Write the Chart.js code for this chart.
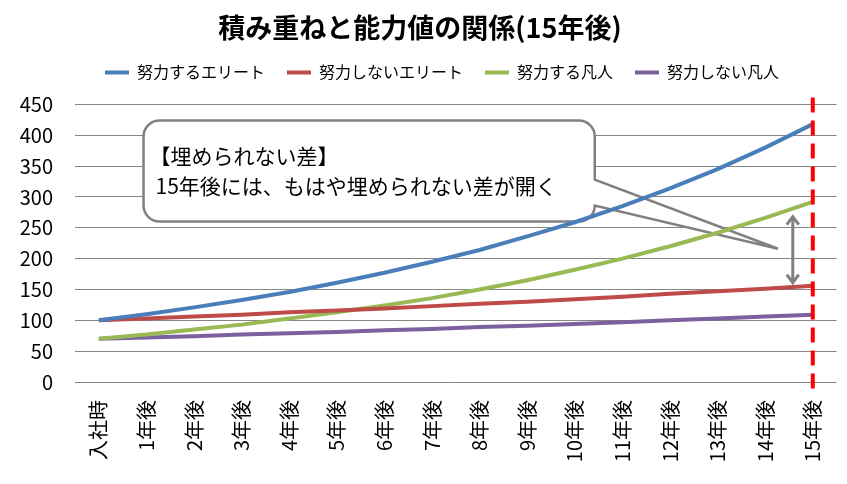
<!DOCTYPE html>
<html>
<head>
<meta charset="utf-8">
<script src="https://cdn.jsdelivr.net/npm/chart.js@4"></script>
<style>
  html, body { margin: 0; padding: 0; background: #fff; }
  #wrap { width: 847px; height: 484px; }
</style>
</head>
<body>
<div id="wrap"><canvas id="chart" width="847" height="484"></canvas></div>
<script>
// データ
const labels = ['入社時', '1年後', '2年後', '3年後', '4年後', '5年後', '6年後', '7年後',
  '8年後', '9年後', '10年後', '11年後', '12年後', '13年後', '14年後', '15年後'];
const eliteWork = [100, 110, 121, 133, 146, 161, 177, 195, 214, 236, 259, 285, 314, 345, 380, 418];
const eliteLazy = [100, 103, 106, 109, 113, 116, 119, 123, 127, 130, 134, 138, 143, 147, 151, 156];
const normalWork = [70, 77, 85, 93, 103, 113, 124, 136, 150, 165, 182, 200, 220, 242, 266, 292];
const normalLazy = [70, 72, 74, 77, 79, 81, 84, 86, 89, 91, 94, 97, 100, 103, 106, 109];
const yTicks = [0, 50, 100, 150, 200, 250, 300, 350, 400, 450];

const FONT = '"Noto Sans CJK JP", "Noto Sans", sans-serif';

// 凡例の下に余白を足して、少し右へずらす
const legendTweak = {
  id: 'legendTweak',
  beforeLayout(chart) {
    const lg = chart.legend;
    if (!lg || lg._tweaked) return;
    lg._tweaked = true;
    const fit = lg.fit;
    lg.fit = function() {
      fit.call(this);
      this.height += 14;
    };
    const draw = lg.draw;
    lg.draw = function() {
      const ctx = this.ctx;
      ctx.save();
      ctx.translate(22, 0);
      draw.call(this);
      ctx.restore();
    };
  }
};

// 吹き出し・矢印・破線
const annotate = {
  id: 'annotate',
  beforeDatasetsDraw(chart) {
    const { ctx, scales: { x, y } } = chart;
    const l = x.getPixelForValue(0.94), r = x.getPixelForValue(10.42);
    const t = y.getPixelForValue(424), b = y.getPixelForValue(260);
    const rad = 16;
    const tipX = x.getPixelForValue(14.27), tipY = y.getPixelForValue(216);
    const t1 = y.getPixelForValue(328), t2 = y.getPixelForValue(286);
    ctx.save();
    ctx.beginPath();
    ctx.moveTo(l + rad, t);
    ctx.lineTo(r - rad, t);
    ctx.arcTo(r, t, r, t + rad, rad);
    ctx.lineTo(r, t1);
    ctx.lineTo(tipX, tipY);
    ctx.lineTo(r, t2);
    ctx.arcTo(r, b, r - rad, b, rad);
    ctx.lineTo(l + rad, b);
    ctx.arcTo(l, b, l, b - rad, rad);
    ctx.lineTo(l, t + rad);
    ctx.arcTo(l, t, l + rad, t, rad);
    ctx.closePath();
    ctx.fillStyle = '#ffffff';
    ctx.fill();
    ctx.strokeStyle = '#808080';
    ctx.lineWidth = 2.5;
    ctx.stroke();
    ctx.fillStyle = '#000';
    ctx.font = '21px ' + FONT;
    ctx.textBaseline = 'middle';
    ctx.fillText('【埋められない差】', l + 6, t + 36);
    ctx.fillText('15年後には、もはや埋められない差が開く', l + 12, t + 66);
    ctx.restore();
  },
  afterDatasetsDraw(chart) {
    const { ctx, scales: { x, y } } = chart;
    // 差を示す矢印
    const ax = x.getPixelForValue(14.58);
    const ay1 = y.getPixelForValue(268), ay2 = y.getPixelForValue(161);
    ctx.save();
    ctx.strokeStyle = '#808080';
    ctx.lineWidth = 3;
    ctx.beginPath();
    ctx.moveTo(ax, ay1); ctx.lineTo(ax, ay2);
    ctx.moveTo(ax - 6, ay1 + 8); ctx.lineTo(ax, ay1); ctx.lineTo(ax + 6, ay1 + 8);
    ctx.moveTo(ax - 6, ay2 - 8); ctx.lineTo(ax, ay2); ctx.lineTo(ax + 6, ay2 - 8);
    ctx.stroke();
    // 15年後の赤い破線
    const dx = x.getPixelForValue(15);
    ctx.strokeStyle = '#ff0000';
    ctx.lineWidth = 4;
    ctx.setLineDash([15, 8]);
    ctx.beginPath();
    ctx.moveTo(dx, chart.chartArea.top - 7);
    ctx.lineTo(dx, chart.chartArea.bottom + 12);
    ctx.stroke();
    ctx.restore();
  }
};

function line(label, data, color) {
  return {
    label, data,
    borderColor: color, backgroundColor: color,
    borderWidth: 4, pointRadius: 0, tension: 0, fill: false
  };
}

new Chart(document.getElementById('chart'), {
  type: 'line',
  data: {
    labels: labels,
    datasets: [
      line('努力するエリート', eliteWork, '#4a7ebb'),
      line('努力しないエリート', eliteLazy, '#be4b48'),
      line('努力する凡人', normalWork, '#98b954'),
      line('努力しない凡人', normalLazy, '#7d60a0')
    ]
  },
  options: {
    responsive: false,
    animation: false,
    layout: { padding: { left: 0, right: 7, top: 6, bottom: 0 } },
    plugins: {
      title: {
        display: true,
        text: '積み重ねと能力値の関係(15年後)',
        color: '#000',
        font: { family: FONT, size: 27, weight: 'bold' },
        padding: { top: 6, bottom: -2 }
      },
      legend: {
        labels: {
          usePointStyle: true,
          pointStyle: 'line',
          pointStyleWidth: 24,
          boxWidth: 24,
          boxHeight: 5,
          color: '#000',
          font: { family: FONT, size: 16 },
          padding: 22
        }
      },
      tooltip: { enabled: false }
    },
    scales: {
      x: {
        offset: true,
        grid: { display: false },
        border: { display: false },
        ticks: {
          color: '#000',
          font: { family: FONT, size: 20 },
          minRotation: 90, maxRotation: 90,
          autoSkip: false, padding: 10
        },
        afterFit(s) { s.height = 102; }
      },
      y: {
        min: 0, max: 450,
        afterBuildTicks(s) { s.ticks = yTicks.map(v => ({ value: v })); },
        grid: { color: '#868686', lineWidth: 1, drawTicks: false },
        border: { display: false },
        ticks: {
          color: '#000',
          font: { family: FONT, size: 20 },
          padding: 22
        },
        afterFit(s) { s.width = 75; }
      }
    }
  },
  plugins: [legendTweak, annotate]
});
</script>
</body>
</html>
